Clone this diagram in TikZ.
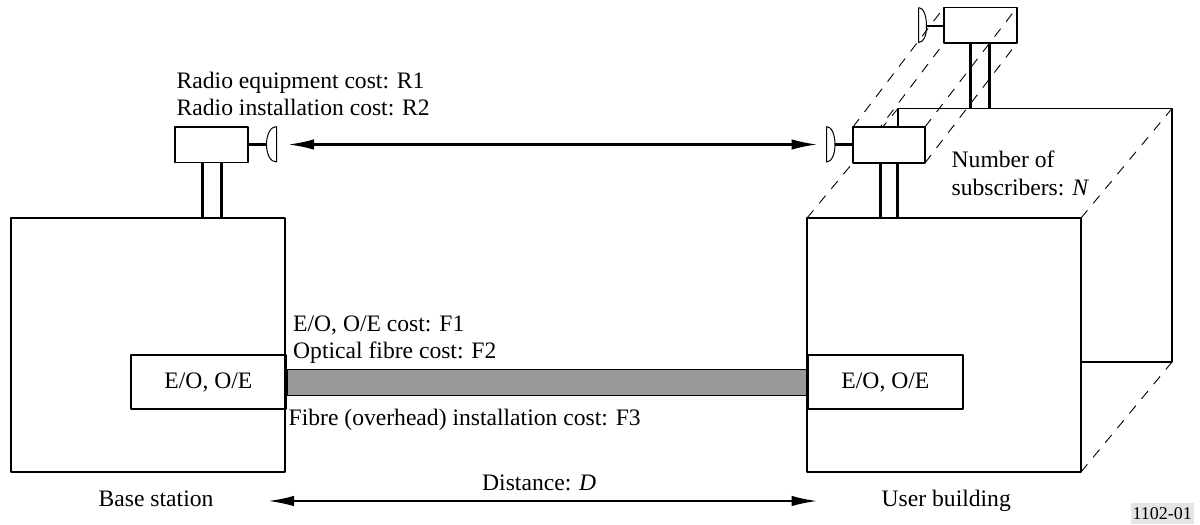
\documentclass[tikz,border=0pt]{standalone}
\usepackage{fontspec}
\setmainfont{Liberation Serif}
\usetikzlibrary{arrows.meta}
\tikzset{
  boxline/.style={line width=1.8pt},
  poleline/.style={line width=2.4pt},
  dishline/.style={line width=1pt},
  hiddenline/.style={line width=0.9pt, dash pattern=on 10pt off 9pt},
  linkarrow/.style={line width=2.2pt, {Latex[length=26pt,width=10.5pt]}-{Latex[length=26pt,width=10.5pt]}},
  eobox/.style={draw, boxline, minimum width=155pt, minimum height=54pt, inner sep=0pt, anchor=west},
  label/.style={inner sep=0pt, anchor=base west},
}
\begin{document}
\begin{tikzpicture}[x=1pt, y=-1pt, line join=round, line cap=butt,
    every node/.append style={font=\fontsize{23.6}{26.7}\selectfont}]
  \useasboundingbox (0,0) rectangle (1200,525);

  % base station
  \coordinate (A) at (11,218);
  \coordinate (B) at (285,218);
  \coordinate (C) at (285,472);
  \coordinate (D) at (11,472);

  % user building, front
  \coordinate (E) at (807,218);
  \coordinate (F) at (1081,218);
  \coordinate (G) at (1081,472);
  \coordinate (H) at (807,472);

  % user building, back
  \coordinate (I) at (898,108.5);
  \coordinate (J) at (1172,108.5);
  \coordinate (K) at (1172,362);
  \coordinate (L) at (1081,362);
  \coordinate (M) at (898,127);

  % radio boxes
  \coordinate (Ra) at (175,127);
  \coordinate (Rb) at (248,127);
  \coordinate (Rc) at (248,162.5);
  \coordinate (Rd) at (175,162.5);

  \coordinate (Sa) at (853,127);
  \coordinate (Sb) at (925,127);
  \coordinate (Sc) at (925,163);
  \coordinate (Sd) at (853,163);

  \coordinate (Ta) at (944,7.5);
  \coordinate (Tb) at (1017,7.5);
  \coordinate (Tc) at (1017,43);
  \coordinate (Td) at (944,43);

  % back part and its hidden edges
  \draw[boxline] (M)--(I)--(J)--(K)--(L);
  \draw[boxline] (Ta)--(Tb)--(Tc)--(Td)--cycle;
  \draw[poleline] (970.5,43)--(970.5,108.5);
  \draw[poleline] (989.5,43)--(989.5,108.5);
  \draw[hiddenline] (E)--(I);
  \draw[hiddenline] (F)--(J);
  \draw[hiddenline] (G)--(K);
  \draw[hiddenline] (Sa)--(Ta);
  \draw[hiddenline] (Sb)--(Tb);
  \draw[hiddenline] (Sc)--(Tc);
  \draw[hiddenline] (Sd)--(Td);

  \draw[boxline] (A)--(B)--(C)--(D)--cycle;
  \draw[boxline] (E)--(F)--(G)--(H)--cycle;
  \draw[boxline] (Ra)--(Rb)--(Rc)--(Rd)--cycle;
  \draw[boxline, fill=white] (Sa)--(Sb)--(Sc)--(Sd)--cycle;

  % masts
  \draw[poleline] (202.5,162.5)--(202.5,218);
  \draw[poleline] (221.5,162.5)--(221.5,218);
  \draw[poleline] (880.5,163)--(880.5,218);
  \draw[poleline] (897.5,163)--(897.5,218);

  % dishes
  \coordinate (Da) at (276.5,126.5);
  \coordinate (Db) at (276.5,162);
  \coordinate (Dc) at (266.5,144.5);
  \draw[dishline] (Da)--(Db) .. controls +(-6,0) and +(0,10) .. (Dc) .. controls +(0,-10) and +(-6,0) .. (Da);
  \draw[poleline] (248,144.5)--(Dc);

  \coordinate (Ea) at (826.5,126.5);
  \coordinate (Eb) at (826.5,162);
  \coordinate (Ec) at (835,144.5);
  \draw[dishline] (Ea)--(Eb) .. controls +(5,0) and +(0,10) .. (Ec) .. controls +(0,-10) and +(5,0) .. (Ea);
  \draw[poleline] (Ec)--(Sa|-Ec);

  \coordinate (Fa) at (918.5,7.5);
  \coordinate (Fb) at (918.5,42.5);
  \coordinate (Fc) at (926.5,26);
  \draw[dishline] (Fa)--(Fb) .. controls +(5,0) and +(0,10) .. (Fc) .. controls +(0,-10) and +(5,0) .. (Fa);
  \draw[poleline] (Fc)--(Ta|-Fc);

  % fibre link
  \node[eobox] (eoBase) at (130,382) {E/O, O/E};
  \node[eobox] (eoUser) at (807,382) {E/O, O/E\hspace{4pt}};
  \draw[boxline, fill=black!40] (eoBase.east|-0,369.5) rectangle (eoUser.west|-0,395.5);

  % free space and distance
  \coordinate (Wa) at (288,144.5);
  \coordinate (Wb) at (817.5,144.5);
  \coordinate (Xa) at (268,501);
  \coordinate (Xb) at (817.5,501);
  \draw[linkarrow] (Wa)--(Wb);
  \draw[linkarrow] (Xa)--(Xb);

  % labels
  \node[label] (radioCost) at (176.5,88) {Radio equipment cost: R1};
  \node[label] (radioInst) at (176.5,115) {Radio installation cost: R2};
  \node[label] (fibreCost) at (293,331) {E/O, O/E cost: F1};
  \node[label] (fibrePrice) at (293,358) {Optical fibre cost: F2};
  \node[label] (fibreInst) at (288.5,425) {Fibre (overhead) installation cost: F3};
  \node[label] (distance) at (482,490) {Distance: \textit{D}};
  \node[label] (baseName) at (98.5,506) {Base station};
  \node[label] (userName) at (881.5,506) {User building};
  \node[label] (subsA) at (951.5,167.5) {Number of};
  \node[label] (subsB) at (951.5,195.5) {subscribers: \textit{N}};
  \node[fill=black!10, inner sep=0pt, minimum width=63pt, minimum height=21pt, anchor=south east,
    font=\fontsize{18}{20}\selectfont] (figNo) at (1194,524) {1102-01};
\end{tikzpicture}
\end{document}
